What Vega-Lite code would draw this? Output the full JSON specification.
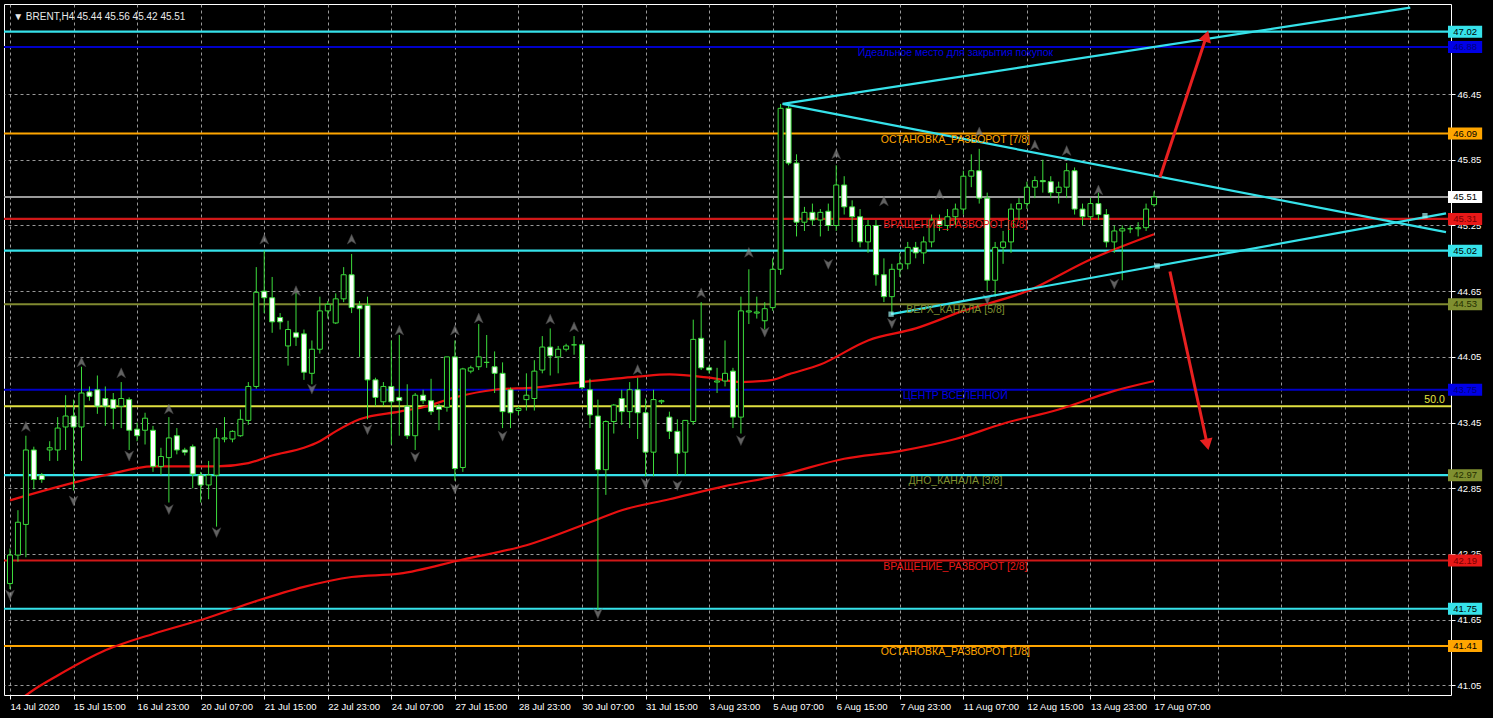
{
  "$schema": "https://vega.github.io/schema/vega-lite/v6.json",
  "width": 1447,
  "height": 691,
  "autosize": {"type": "none"},
  "padding": {"left": 4, "top": 4, "right": 42, "bottom": 23},
  "background": "#000000",
  "config": {
    "view": {"stroke": "#FFFFFF", "strokeWidth": 1},
    "axis": {"labelFont": "Liberation Sans", "labelFontSize": 9.5, "labelColor": "#FFFFFF", "tickColor": "#FFFFFF", "domain": false}
  },
  "datasets": {
    "candles": [
      {"i":0,"o":41.98,"h":42.3,"l":41.93,"c":42.24},
      {"i":1,"o":42.24,"h":42.65,"l":42.18,"c":42.54},
      {"i":2,"o":42.52,"h":43.33,"l":42.22,"c":43.2},
      {"i":3,"o":43.2,"h":43.23,"l":42.84,"c":42.93},
      {"i":4,"o":42.97,"h":42.99,"l":42.9,"c":42.93},
      {"i":5,"o":43.2,"h":43.28,"l":43.1,"c":43.22},
      {"i":6,"o":43.2,"h":43.5,"l":43.1,"c":43.4},
      {"i":7,"o":43.41,"h":43.7,"l":43.2,"c":43.51},
      {"i":8,"o":43.51,"h":43.66,"l":42.83,"c":43.41},
      {"i":9,"o":43.41,"h":43.96,"l":43.1,"c":43.72},
      {"i":10,"o":43.73,"h":43.78,"l":43.65,"c":43.69},
      {"i":11,"o":43.75,"h":43.88,"l":43.53,"c":43.6},
      {"i":12,"o":43.67,"h":43.78,"l":43.42,"c":43.6},
      {"i":13,"o":43.66,"h":43.72,"l":43.39,"c":43.58},
      {"i":14,"o":43.6,"h":43.82,"l":43.4,"c":43.67},
      {"i":15,"o":43.66,"h":43.68,"l":43.2,"c":43.38},
      {"i":16,"o":43.39,"h":43.45,"l":43.28,"c":43.33},
      {"i":17,"o":43.38,"h":43.54,"l":43.25,"c":43.49},
      {"i":18,"o":43.38,"h":43.42,"l":43.0,"c":43.05},
      {"i":19,"o":43.05,"h":43.22,"l":42.97,"c":43.14},
      {"i":20,"o":43.13,"h":43.5,"l":42.72,"c":43.31},
      {"i":21,"o":43.33,"h":43.4,"l":43.16,"c":43.2},
      {"i":22,"o":43.2,"h":43.22,"l":43.15,"c":43.18},
      {"i":23,"o":43.23,"h":43.25,"l":42.85,"c":42.98},
      {"i":24,"o":42.97,"h":43.0,"l":42.72,"c":42.88},
      {"i":25,"o":42.88,"h":43.1,"l":42.75,"c":42.97},
      {"i":26,"o":42.97,"h":43.4,"l":42.5,"c":43.31},
      {"i":27,"o":43.3,"h":43.5,"l":43.27,"c":43.31},
      {"i":28,"o":43.3,"h":43.38,"l":43.27,"c":43.37},
      {"i":29,"o":43.33,"h":43.57,"l":43.32,"c":43.48},
      {"i":30,"o":43.47,"h":43.82,"l":43.43,"c":43.78},
      {"i":31,"o":43.78,"h":44.87,"l":43.76,"c":44.64},
      {"i":32,"o":44.65,"h":45.02,"l":44.45,"c":44.59},
      {"i":33,"o":44.59,"h":44.78,"l":44.27,"c":44.37},
      {"i":34,"o":44.41,"h":44.45,"l":44.3,"c":44.37},
      {"i":35,"o":44.15,"h":44.38,"l":43.97,"c":44.3},
      {"i":36,"o":44.27,"h":44.64,"l":44.15,"c":44.23},
      {"i":37,"o":44.26,"h":44.3,"l":43.84,"c":43.91},
      {"i":38,"o":43.9,"h":44.2,"l":43.8,"c":44.12},
      {"i":39,"o":44.12,"h":44.6,"l":44.08,"c":44.47},
      {"i":40,"o":44.47,"h":44.56,"l":44.4,"c":44.53},
      {"i":41,"o":44.36,"h":44.63,"l":44.35,"c":44.58},
      {"i":42,"o":44.58,"h":44.87,"l":44.55,"c":44.8},
      {"i":43,"o":44.8,"h":44.99,"l":44.45,"c":44.5},
      {"i":44,"o":44.52,"h":44.56,"l":44.05,"c":44.49},
      {"i":45,"o":44.52,"h":44.6,"l":43.48,"c":43.84},
      {"i":46,"o":43.84,"h":43.86,"l":43.6,"c":43.68},
      {"i":47,"o":43.64,"h":43.82,"l":43.6,"c":43.78},
      {"i":48,"o":43.78,"h":44.2,"l":43.25,"c":43.64},
      {"i":49,"o":43.68,"h":44.25,"l":43.33,"c":43.65},
      {"i":50,"o":43.6,"h":43.8,"l":43.3,"c":43.33},
      {"i":51,"o":43.33,"h":43.72,"l":43.2,"c":43.7},
      {"i":52,"o":43.7,"h":43.75,"l":43.62,"c":43.65},
      {"i":53,"o":43.65,"h":43.85,"l":43.52,"c":43.55},
      {"i":54,"o":43.6,"h":43.62,"l":43.38,"c":43.57},
      {"i":55,"o":43.59,"h":44.05,"l":43.55,"c":44.05},
      {"i":56,"o":44.05,"h":44.2,"l":42.92,"c":43.03},
      {"i":57,"o":43.04,"h":43.95,"l":43.0,"c":43.94},
      {"i":58,"o":43.92,"h":43.97,"l":43.9,"c":43.95},
      {"i":59,"o":43.96,"h":44.35,"l":43.93,"c":44.05},
      {"i":60,"o":44.0,"h":44.25,"l":43.95,"c":44.0},
      {"i":61,"o":43.96,"h":44.1,"l":43.72,"c":43.9},
      {"i":62,"o":43.9,"h":44.0,"l":43.4,"c":43.55},
      {"i":63,"o":43.75,"h":43.77,"l":43.4,"c":43.54},
      {"i":64,"o":43.56,"h":43.6,"l":43.52,"c":43.58},
      {"i":65,"o":43.66,"h":43.9,"l":43.56,"c":43.7},
      {"i":66,"o":43.67,"h":44.02,"l":43.56,"c":43.92},
      {"i":67,"o":43.93,"h":44.24,"l":43.9,"c":44.14},
      {"i":68,"o":44.14,"h":44.31,"l":43.88,"c":44.06},
      {"i":69,"o":44.05,"h":44.15,"l":43.9,"c":44.12},
      {"i":70,"o":44.12,"h":44.17,"l":44.1,"c":44.15},
      {"i":71,"o":44.16,"h":44.24,"l":44.07,"c":44.16},
      {"i":72,"o":44.16,"h":44.17,"l":43.75,"c":43.77},
      {"i":73,"o":43.75,"h":43.85,"l":43.4,"c":43.52},
      {"i":74,"o":43.51,"h":43.66,"l":41.74,"c":43.02},
      {"i":75,"o":43.02,"h":43.47,"l":42.79,"c":43.46},
      {"i":76,"o":43.46,"h":43.62,"l":43.35,"c":43.61},
      {"i":77,"o":43.67,"h":43.75,"l":43.43,"c":43.55},
      {"i":78,"o":43.55,"h":43.82,"l":43.4,"c":43.75},
      {"i":79,"o":43.75,"h":43.86,"l":43.3,"c":43.54},
      {"i":80,"o":43.54,"h":43.67,"l":42.96,"c":43.18},
      {"i":81,"o":43.18,"h":43.75,"l":42.96,"c":43.66},
      {"i":82,"o":43.64,"h":43.66,"l":43.62,"c":43.65},
      {"i":83,"o":43.5,"h":43.55,"l":43.3,"c":43.37},
      {"i":84,"o":43.37,"h":43.48,"l":42.97,"c":43.17},
      {"i":85,"o":43.18,"h":43.47,"l":42.97,"c":43.47},
      {"i":86,"o":43.46,"h":44.39,"l":43.43,"c":44.21},
      {"i":87,"o":44.22,"h":44.55,"l":43.93,"c":43.95},
      {"i":88,"o":43.95,"h":43.97,"l":43.9,"c":43.93},
      {"i":89,"o":43.82,"h":43.95,"l":43.72,"c":43.83},
      {"i":90,"o":43.83,"h":44.2,"l":43.78,"c":43.9},
      {"i":91,"o":43.92,"h":43.95,"l":43.4,"c":43.5},
      {"i":92,"o":43.5,"h":44.6,"l":43.35,"c":44.47},
      {"i":93,"o":44.46,"h":44.85,"l":44.35,"c":44.47},
      {"i":94,"o":44.45,"h":44.6,"l":44.4,"c":44.46},
      {"i":95,"o":44.38,"h":44.55,"l":44.3,"c":44.49},
      {"i":96,"o":44.5,"h":44.95,"l":44.47,"c":44.85},
      {"i":97,"o":44.85,"h":46.36,"l":44.8,"c":46.32},
      {"i":98,"o":46.32,"h":46.36,"l":45.8,"c":45.82},
      {"i":99,"o":45.82,"h":45.9,"l":45.15,"c":45.28},
      {"i":100,"o":45.28,"h":45.42,"l":45.2,"c":45.37},
      {"i":101,"o":45.37,"h":45.45,"l":45.25,"c":45.3},
      {"i":102,"o":45.3,"h":45.4,"l":45.15,"c":45.37},
      {"i":103,"o":45.38,"h":45.45,"l":45.2,"c":45.25},
      {"i":104,"o":45.25,"h":45.8,"l":45.2,"c":45.62},
      {"i":105,"o":45.62,"h":45.7,"l":45.35,"c":45.42},
      {"i":106,"o":45.42,"h":45.48,"l":45.1,"c":45.33},
      {"i":107,"o":45.33,"h":45.4,"l":45.05,"c":45.1},
      {"i":108,"o":45.1,"h":45.3,"l":45.0,"c":45.25},
      {"i":109,"o":45.25,"h":45.3,"l":44.7,"c":44.8},
      {"i":110,"o":44.8,"h":44.95,"l":44.55,"c":44.6},
      {"i":111,"o":44.6,"h":44.9,"l":44.45,"c":44.85},
      {"i":112,"o":44.85,"h":45.0,"l":44.78,"c":44.9},
      {"i":113,"o":44.9,"h":45.1,"l":44.85,"c":45.05},
      {"i":114,"o":45.05,"h":45.1,"l":44.95,"c":45.0},
      {"i":115,"o":45.0,"h":45.15,"l":44.9,"c":45.1},
      {"i":116,"o":45.1,"h":45.35,"l":45.05,"c":45.3},
      {"i":117,"o":45.3,"h":45.35,"l":45.2,"c":45.25},
      {"i":118,"o":45.25,"h":45.4,"l":45.2,"c":45.33},
      {"i":119,"o":45.33,"h":45.45,"l":45.25,"c":45.4},
      {"i":120,"o":45.4,"h":45.75,"l":45.35,"c":45.7},
      {"i":121,"o":45.7,"h":45.9,"l":45.6,"c":45.75},
      {"i":122,"o":45.75,"h":45.95,"l":45.45,"c":45.5},
      {"i":123,"o":45.5,"h":45.55,"l":44.65,"c":44.75},
      {"i":124,"o":44.75,"h":45.1,"l":44.6,"c":45.05},
      {"i":125,"o":45.05,"h":45.2,"l":44.9,"c":45.1},
      {"i":126,"o":45.1,"h":45.45,"l":45.0,"c":45.4},
      {"i":127,"o":45.4,"h":45.5,"l":45.3,"c":45.45},
      {"i":128,"o":45.45,"h":45.65,"l":45.4,"c":45.6},
      {"i":129,"o":45.6,"h":45.7,"l":45.5,"c":45.66},
      {"i":130,"o":45.66,"h":45.85,"l":45.55,"c":45.65},
      {"i":131,"o":45.65,"h":45.7,"l":45.5,"c":45.55},
      {"i":132,"o":45.55,"h":45.65,"l":45.45,"c":45.6},
      {"i":133,"o":45.6,"h":45.82,"l":45.5,"c":45.75},
      {"i":134,"o":45.75,"h":45.78,"l":45.35,"c":45.4},
      {"i":135,"o":45.4,"h":45.45,"l":45.25,"c":45.33},
      {"i":136,"o":45.33,"h":45.5,"l":45.3,"c":45.45},
      {"i":137,"o":45.45,"h":45.55,"l":45.3,"c":45.35},
      {"i":138,"o":45.35,"h":45.4,"l":45.05,"c":45.1},
      {"i":139,"o":45.1,"h":45.25,"l":45.0,"c":45.2},
      {"i":140,"o":45.2,"h":45.25,"l":44.75,"c":45.22},
      {"i":141,"o":45.22,"h":45.25,"l":45.18,"c":45.22},
      {"i":142,"o":45.22,"h":45.28,"l":45.15,"c":45.23},
      {"i":143,"o":45.23,"h":45.45,"l":45.2,"c":45.4},
      {"i":144,"o":45.44,"h":45.56,"l":45.42,"c":45.51}
    ],
    "ma": [
      {"ma":"fast","i":0,"p":42.74},{"ma":"fast","i":12,"p":42.97},{"ma":"fast","i":18,"p":43.05},{"ma":"fast","i":26,"p":43.05},
      {"ma":"fast","i":30,"p":43.08},{"ma":"fast","i":33,"p":43.15},{"ma":"fast","i":37,"p":43.22},{"ma":"fast","i":39,"p":43.28},
      {"ma":"fast","i":41,"p":43.37},{"ma":"fast","i":44,"p":43.48},{"ma":"fast","i":49,"p":43.55},{"ma":"fast","i":52,"p":43.59},
      {"ma":"fast","i":56,"p":43.68},{"ma":"fast","i":61,"p":43.75},{"ma":"fast","i":66,"p":43.77},{"ma":"fast","i":72,"p":43.82},
      {"ma":"fast","i":79,"p":43.87},{"ma":"fast","i":83,"p":43.89},{"ma":"fast","i":88,"p":43.86},{"ma":"fast","i":92,"p":43.82},
      {"ma":"fast","i":96,"p":43.84},{"ma":"fast","i":98,"p":43.89},{"ma":"fast","i":102,"p":43.98},{"ma":"fast","i":108,"p":44.2},
      {"ma":"fast","i":114,"p":44.31},{"ma":"fast","i":120,"p":44.47},{"ma":"fast","i":128,"p":44.65},{"ma":"fast","i":136,"p":44.94},
      {"ma":"fast","i":144,"p":45.17},
      {"ma":"slow","i":0,"p":40.85},{"ma":"slow","i":3,"p":41.01},{"ma":"slow","i":6,"p":41.14},{"ma":"slow","i":12,"p":41.37},
      {"ma":"slow","i":18,"p":41.52},{"ma":"slow","i":25,"p":41.67},{"ma":"slow","i":31,"p":41.82},{"ma":"slow","i":37,"p":41.95},
      {"ma":"slow","i":43,"p":42.04},{"ma":"slow","i":49,"p":42.07},{"ma":"slow","i":57,"p":42.2},{"ma":"slow","i":65,"p":42.33},
      {"ma":"slow","i":73,"p":42.54},{"ma":"slow","i":77,"p":42.65},{"ma":"slow","i":83,"p":42.75},{"ma":"slow","i":90,"p":42.87},
      {"ma":"slow","i":97,"p":42.97},{"ma":"slow","i":105,"p":43.12},{"ma":"slow","i":112,"p":43.19},{"ma":"slow","i":119,"p":43.3},
      {"ma":"slow","i":125,"p":43.44},{"ma":"slow","i":132,"p":43.57},{"ma":"slow","i":139,"p":43.74},{"ma":"slow","i":144,"p":43.83}
    ],
    "levels": [
      {"p":47.02,"kind":"channel"},{"p":46.88,"kind":"target"},{"p":46.09,"kind":"stop"},{"p":45.51,"kind":"price"},
      {"p":45.31,"kind":"rotation"},{"p":45.02,"kind":"channel"},{"p":44.53,"kind":"band"},{"p":43.75,"kind":"center"},
      {"p":43.6,"kind":"fibo"},{"p":42.97,"kind":"channel"},{"p":42.19,"kind":"rotation"},{"p":41.75,"kind":"channel"},
      {"p":41.41,"kind":"stop"}
    ],
    "tags": [
      {"p":47.02,"kind":"channel"},{"p":46.88,"kind":"target"},{"p":46.09,"kind":"stop"},{"p":45.51,"kind":"price"},
      {"p":45.31,"kind":"rotation"},{"p":45.02,"kind":"channel"},{"p":44.53,"kind":"band"},{"p":43.75,"kind":"center"},
      {"p":42.97,"kind":"band"},{"p":42.19,"kind":"rotation"},{"p":41.75,"kind":"channel"},{"p":41.41,"kind":"stop"}
    ],
    "labels": [
      {"i":119,"p":46.88,"kind":"target","text":"Идеальное место для закрытия покупок"},
      {"i":119,"p":46.09,"kind":"stop","text":"ОСТАНОВКА_РАЗВОРОТ [7/8]"},
      {"i":119,"p":45.31,"kind":"rotation","text":"ВРАЩЕНИЕ_РАЗВОРОТ [6/8]"},
      {"i":119,"p":44.53,"kind":"band","text":"ВЕРХ_КАНАЛА [5/8]"},
      {"i":119,"p":43.75,"kind":"center","text":"ЦЕНТР ВСЕЛЕННОЙ"},
      {"i":119,"p":42.97,"kind":"band","text":"ДНО_КАНАЛА [3/8]"},
      {"i":119,"p":42.19,"kind":"rotation","text":"ВРАЩЕНИЕ_РАЗВОРОТ [2/8]"},
      {"i":119,"p":41.41,"kind":"stop","text":"ОСТАНОВКА_РАЗВОРОТ [1/8]"}
    ],
    "fibo": [{"i":180.6,"p":43.6,"kind":"fibo","text":"50.0"}],
    "fractals": [
      {"i":2,"p":43.41,"dir":"up"},{"i":9,"p":44.0,"dir":"up"},{"i":14,"p":43.9,"dir":"up"},{"i":20,"p":43.57,"dir":"up"},
      {"i":32,"p":45.12,"dir":"up"},{"i":36,"p":44.65,"dir":"up"},{"i":43,"p":45.12,"dir":"up"},{"i":49,"p":44.29,"dir":"up"},
      {"i":56,"p":44.29,"dir":"up"},{"i":59,"p":44.4,"dir":"up"},{"i":68,"p":44.39,"dir":"up"},{"i":71,"p":44.32,"dir":"up"},
      {"i":79,"p":43.93,"dir":"up"},{"i":87,"p":44.63,"dir":"up"},{"i":93,"p":45.0,"dir":"up"},{"i":104,"p":45.9,"dir":"up"},
      {"i":110,"p":45.47,"dir":"up"},{"i":117,"p":45.53,"dir":"up"},{"i":122,"p":46.1,"dir":"up"},{"i":129,"p":45.98,"dir":"up"},
      {"i":133,"p":45.93,"dir":"up"},{"i":137,"p":45.57,"dir":"up"},
      {"i":0,"p":41.88,"dir":"down"},{"i":8,"p":42.74,"dir":"down"},{"i":15,"p":43.15,"dir":"down"},{"i":20,"p":42.66,"dir":"down"},
      {"i":26,"p":42.45,"dir":"down"},{"i":38,"p":43.76,"dir":"down"},{"i":45,"p":43.39,"dir":"down"},{"i":51,"p":43.14,"dir":"down"},
      {"i":56,"p":42.85,"dir":"down"},{"i":62,"p":43.33,"dir":"down"},{"i":74,"p":41.71,"dir":"down"},{"i":80,"p":42.9,"dir":"down"},
      {"i":84,"p":42.88,"dir":"down"},{"i":92,"p":43.29,"dir":"down"},{"i":95,"p":44.28,"dir":"down"},{"i":103,"p":44.9,"dir":"down"},
      {"i":111,"p":44.36,"dir":"down"},{"i":123,"p":44.58,"dir":"down"},{"i":139,"p":44.72,"dir":"down"}
    ],
    "trend": [
      {"line":"up","i":97.25,"p":46.36},{"line":"up","i":176.25,"p":47.24},
      {"line":"down","i":97.25,"p":46.36},{"line":"down","i":180.75,"p":45.19},
      {"line":"support","i":110.9,"p":44.44},{"line":"support","i":180.75,"p":45.36}
    ],
    "anchors": [{"i":110.9,"p":44.44},{"i":144.4,"p":44.88},{"i":178.1,"p":45.34}],
    "arrows": [
      {"arrow":"up","i":144.75,"p":45.69},{"arrow":"up","i":150.6,"p":46.98},
      {"arrow":"down","i":146.0,"p":44.83},{"arrow":"down","i":150.7,"p":43.25}
    ],
    "heads": [{"dir":"up","i":150.6,"p":46.98},{"dir":"down","i":150.7,"p":43.25}],
    "header": [{"i":0.4,"p":47.155,"text":"▼ BRENT,H4  45.44 45.56 45.42 45.51"}]
  },
  "layer": [
    {
      "data": {"name": "candles"},
      "mark": {"type": "rule", "opacity": 0},
      "encoding": {
        "x": {"field": "i", "type": "quantitative", "scale": {"domain": [-0.125, 180.75], "nice": false, "zero": false},
          "axis": {"title": null, "orient": "bottom", "values": [0,4,8,12,16,20,24,28,32,36,40,44,48,52,56,60,64,68,72,76,80,84,88,92,96,100,104,108,112,116,120,124,128,132,136,140,144,148,152,156,160,164,168,172,176,180],
            "labelExpr": "(datum.value % 8 === 0 && datum.value <= 144) ? ['14 Jul 2020','15 Jul 15:00','16 Jul 23:00','20 Jul 07:00','21 Jul 15:00','22 Jul 23:00','24 Jul 07:00','27 Jul 15:00','28 Jul 23:00','30 Jul 07:00','31 Jul 15:00','3 Aug 23:00','5 Aug 07:00','6 Aug 15:00','7 Aug 23:00','11 Aug 07:00','12 Aug 15:00','13 Aug 23:00','17 Aug 07:00'][datum.value / 8] : ''",
            "labelAlign": "left", "labelOverlap": false, "labelFlush": false, "labelPadding": 2, "tickSize": 4,
            "tickOpacity": {"condition": {"test": "datum.value % 8 === 0 && datum.value <= 144", "value": 1}, "value": 0},
            "grid": true, "gridColor": "#B4B4B4", "gridDash": [3, 3], "gridOpacity": 0.85}},
        "y": {"field": "l", "type": "quantitative", "scale": {"domain": [41.008, 47.227], "nice": false, "zero": false},
          "axis": {"title": null, "orient": "right", "values": [41.05,41.35,41.65,41.95,42.25,42.55,42.85,43.15,43.45,43.75,44.05,44.35,44.65,44.95,45.25,45.55,45.85,46.15,46.45,46.75],
            "format": ".2f", "labelPadding": 2, "tickSize": 4, "labelOverlap": false, "labelFlush": false,
            "grid": true, "gridColor": "#B4B4B4", "gridDash": [3, 3], "gridOpacity": 0.85}},
        "y2": {"field": "h"}
      }
    },
    {
      "data": {"name": "levels"},
      "mark": {"type": "rule"},
      "encoding": {
        "y": {"field": "p", "type": "quantitative", "scale": {"domain": [41.008, 47.227], "nice": false, "zero": false}},
        "stroke": {"field": "kind", "type": "nominal", "legend": null,
          "scale": {"domain": ["channel","target","stop","price","rotation","band","center","fibo"], "range": ["#36E2EA","#0000C8","#FFA500","#9A9A9A","#D01818","#808A30","#0000C8","#E0E040"]}},
        "strokeWidth": {"field": "kind", "type": "nominal", "legend": null,
          "scale": {"domain": ["channel","target","stop","price","rotation","band","center","fibo"], "range": [2.2, 2, 1, 1, 1, 1, 2, 1]}}
      }
    },
    {
      "data": {"name": "ma"},
      "mark": {"type": "line", "stroke": "#E81010", "strokeWidth": 2.2, "interpolate": "monotone", "clip": true},
      "encoding": {
        "x": {"field": "i", "type": "quantitative", "scale": {"domain": [-0.125, 180.75], "nice": false, "zero": false}},
        "y": {"field": "p", "type": "quantitative", "scale": {"domain": [41.008, 47.227], "nice": false, "zero": false}},
        "detail": {"field": "ma", "type": "nominal"}
      }
    },
    {
      "data": {"name": "candles"},
      "mark": {"type": "rule", "stroke": "#3CDC3C", "strokeWidth": 1},
      "encoding": {
        "x": {"field": "i", "type": "quantitative", "scale": {"domain": [-0.125, 180.75], "nice": false, "zero": false}},
        "y": {"field": "l", "type": "quantitative", "scale": {"domain": [41.008, 47.227], "nice": false, "zero": false}},
        "y2": {"field": "h"}
      }
    },
    {
      "data": {"name": "candles"},
      "mark": {"type": "bar", "size": 5, "stroke": "#3CDC3C", "strokeWidth": 1, "orient": "vertical"},
      "encoding": {
        "x": {"field": "i", "type": "quantitative", "scale": {"domain": [-0.125, 180.75], "nice": false, "zero": false}},
        "y": {"field": "o", "type": "quantitative", "scale": {"domain": [41.008, 47.227], "nice": false, "zero": false}},
        "y2": {"field": "c"},
        "fill": {"condition": {"test": "datum.c < datum.o", "value": "#FFFFFF"}, "value": "#000000"}
      }
    },
    {
      "data": {"name": "fractals"},
      "mark": {"type": "point", "filled": true, "size": 120, "fill": "#8C8C8C", "stroke": "#5A5A5A", "strokeWidth": 0.5},
      "encoding": {
        "x": {"field": "i", "type": "quantitative", "scale": {"domain": [-0.125, 180.75], "nice": false, "zero": false}},
        "y": {"field": "p", "type": "quantitative", "scale": {"domain": [41.008, 47.227], "nice": false, "zero": false}},
        "shape": {"field": "dir", "type": "nominal", "legend": null,
          "scale": {"domain": ["up", "down"], "range": ["M0,-1L0.8,0.8L0,0.3L-0.8,0.8Z", "M0,1L0.8,-0.8L0,-0.3L-0.8,-0.8Z"]}}
      }
    },
    {
      "data": {"name": "trend"},
      "mark": {"type": "line", "stroke": "#36E2EA", "strokeWidth": 2.2, "clip": true},
      "encoding": {
        "x": {"field": "i", "type": "quantitative", "scale": {"domain": [-0.125, 180.75], "nice": false, "zero": false}},
        "y": {"field": "p", "type": "quantitative", "scale": {"domain": [41.008, 47.227], "nice": false, "zero": false}},
        "detail": {"field": "line", "type": "nominal"}
      }
    },
    {
      "data": {"name": "anchors"},
      "mark": {"type": "square", "filled": true, "size": 28, "fill": "#9EF2F2"},
      "encoding": {
        "x": {"field": "i", "type": "quantitative", "scale": {"domain": [-0.125, 180.75], "nice": false, "zero": false}},
        "y": {"field": "p", "type": "quantitative", "scale": {"domain": [41.008, 47.227], "nice": false, "zero": false}}
      }
    },
    {
      "data": {"name": "arrows"},
      "mark": {"type": "line", "stroke": "#E82020", "strokeWidth": 3},
      "encoding": {
        "x": {"field": "i", "type": "quantitative", "scale": {"domain": [-0.125, 180.75], "nice": false, "zero": false}},
        "y": {"field": "p", "type": "quantitative", "scale": {"domain": [41.008, 47.227], "nice": false, "zero": false}},
        "detail": {"field": "arrow", "type": "nominal"}
      }
    },
    {
      "data": {"name": "heads"},
      "mark": {"type": "point", "shape": "triangle-up", "filled": true, "size": 170, "fill": "#E82020", "opacity": 1},
      "encoding": {
        "x": {"field": "i", "type": "quantitative", "scale": {"domain": [-0.125, 180.75], "nice": false, "zero": false}},
        "y": {"field": "p", "type": "quantitative", "scale": {"domain": [41.008, 47.227], "nice": false, "zero": false}},
        "angle": {"field": "dir", "type": "nominal", "legend": null, "scale": {"domain": ["up", "down"], "range": [18, 168]}}
      }
    },
    {
      "data": {"name": "labels"},
      "mark": {"type": "text", "font": "Liberation Sans", "fontSize": 10.5, "align": "center", "baseline": "top", "dy": 1},
      "encoding": {
        "x": {"field": "i", "type": "quantitative", "scale": {"domain": [-0.125, 180.75], "nice": false, "zero": false}},
        "y": {"field": "p", "type": "quantitative", "scale": {"domain": [41.008, 47.227], "nice": false, "zero": false}},
        "text": {"field": "text"},
        "fill": {"field": "kind", "type": "nominal", "legend": null,
          "scale": {"domain": ["channel","target","stop","price","rotation","band","center","fibo"], "range": ["#36E2EA","#0000E6","#FFA500","#FFFFFF","#E81818","#7F8F30","#0000E6","#E6E640"]}}
      }
    },
    {
      "data": {"name": "fibo"},
      "mark": {"type": "text", "font": "Liberation Sans", "fontSize": 10.5, "align": "right", "baseline": "bottom", "dy": -1},
      "encoding": {
        "x": {"field": "i", "type": "quantitative", "scale": {"domain": [-0.125, 180.75], "nice": false, "zero": false}},
        "y": {"field": "p", "type": "quantitative", "scale": {"domain": [41.008, 47.227], "nice": false, "zero": false}},
        "text": {"field": "text"},
        "fill": {"field": "kind", "type": "nominal", "legend": null,
          "scale": {"domain": ["channel","target","stop","price","rotation","band","center","fibo"], "range": ["#36E2EA","#0000E6","#FFA500","#FFFFFF","#E81818","#7F8F30","#0000E6","#E6E640"]}}
      }
    },
    {
      "data": {"name": "tags"},
      "mark": {"type": "bar", "orient": "horizontal", "size": 12, "clip": false},
      "encoding": {
        "x": {"datum": 181.0, "type": "quantitative", "scale": {"domain": [-0.125, 180.75], "nice": false, "zero": false}},
        "x2": {"datum": 185.3},
        "y": {"field": "p", "type": "quantitative", "scale": {"domain": [41.008, 47.227], "nice": false, "zero": false}},
        "fill": {"field": "kind", "type": "nominal", "legend": null,
          "scale": {"domain": ["channel","target","stop","price","rotation","band","center","fibo"], "range": ["#36E2EA","#0000E6","#FFA500","#FFFFFF","#E81818","#7F8F30","#0000E6","#E6E640"]}}
      }
    },
    {
      "data": {"name": "tags"},
      "mark": {"type": "text", "font": "Liberation Sans", "fontSize": 9.5, "align": "center", "baseline": "middle", "clip": false},
      "encoding": {
        "x": {"datum": 183.15, "type": "quantitative", "scale": {"domain": [-0.125, 180.75], "nice": false, "zero": false}},
        "y": {"field": "p", "type": "quantitative", "scale": {"domain": [41.008, 47.227], "nice": false, "zero": false}},
        "text": {"field": "p", "type": "quantitative", "format": ".2f"},
        "color": {"field": "kind", "type": "nominal", "legend": null,
          "scale": {"domain": ["channel","target","stop","price","rotation","band","center","fibo"], "range": ["#000000","#00007A","#000000","#000000","#7A0000","#263000","#00007A","#000000"]}}
      }
    },
    {
      "data": {"name": "header"},
      "mark": {"type": "text", "font": "Liberation Sans", "fontSize": 10, "align": "left", "baseline": "middle", "fill": "#E8E8E8"},
      "encoding": {
        "x": {"field": "i", "type": "quantitative", "scale": {"domain": [-0.125, 180.75], "nice": false, "zero": false}},
        "y": {"field": "p", "type": "quantitative", "scale": {"domain": [41.008, 47.227], "nice": false, "zero": false}},
        "text": {"field": "text"}
      }
    }
  ]
}
